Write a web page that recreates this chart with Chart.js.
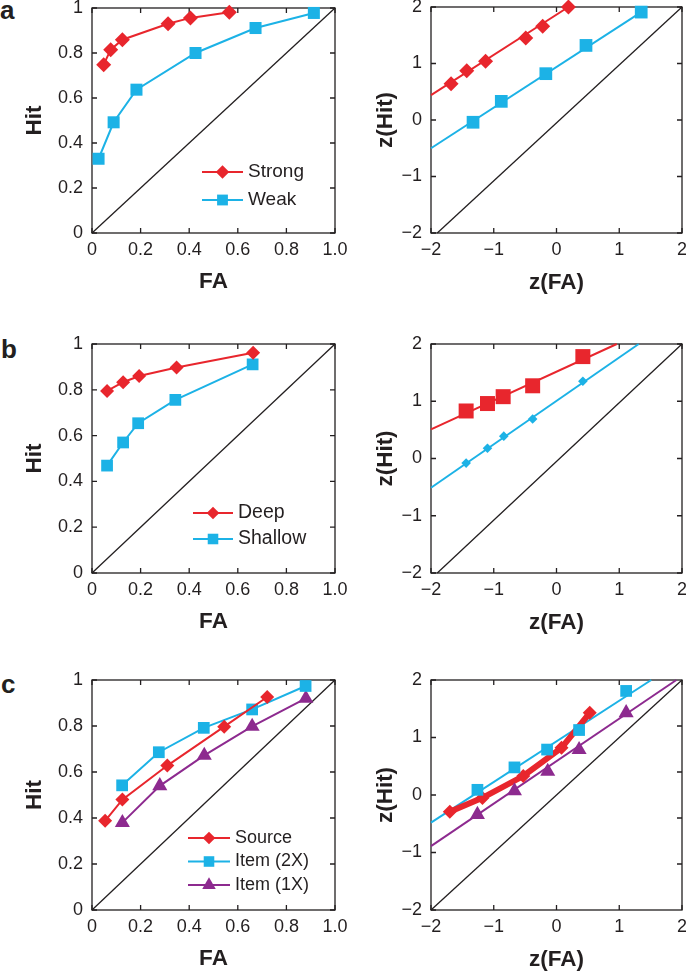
<!DOCTYPE html>
<html>
<head>
<meta charset="utf-8">
<script src="https://cdn.jsdelivr.net/npm/chart.js@4.4.1/dist/chart.umd.min.js"></script>
<style>
  html, body { margin: 0; padding: 0; background: #fff; overflow: hidden; }
  #page { position: relative; width: 686px; height: 971px; overflow: hidden; }
  .panel { position: absolute; }
  .tag { position: absolute; font: bold 26px 'Liberation Sans', Arial, sans-serif; line-height: 26px; color: #231f20; }
</style>
</head>
<body>
<div id="page">
  <div class="tag" style="left:0px;top:-3px">a</div>
  <div class="tag" style="left:1px;top:336px">b</div>
  <div class="tag" style="left:1px;top:671px">c</div>
</div>
<script>
// tick values / labels
const probTicks = [0, 0.2, 0.4, 0.6, 0.8, 1];
const faTickLabels = ['0', '0.2', '0.4', '0.6', '0.8', '1.0'];
const hitTickLabels = ['0', '0.2', '0.4', '0.6', '0.8', '1'];
const zTicks = [-2, -1, 0, 1, 2];
const zTickLabels = ['\u22122', '\u22121', '0', '1', '2'];
const zRightTicksC = [1.2, 0.4, -0.4, -1.2];

// chance diagonals
const chanceX = [0, 1];
const chanceY = [0, 1];
const zChanceX = [-1.9, 2];
const zChanceXC = [-2, 2];
const zChanceY = [-2, 2];

// a: strong / weak
const strongFA = [0.048, 0.077, 0.125, 0.313, 0.405, 0.565];
const strongHit = [0.748, 0.815, 0.859, 0.930, 0.956, 0.981];
const weakFA = [0.027, 0.089, 0.183, 0.426, 0.673, 0.913];
const weakHit = [0.330, 0.492, 0.637, 0.800, 0.911, 0.978];
const strongZFA = [-1.68, -1.43, -1.13, -0.49, -0.22, 0.19];
const strongZHit = [0.64, 0.87, 1.04, 1.45, 1.66, 2.00];
const weakZFA = [-1.33, -0.88, -0.17, 0.47, 1.35];
const weakZHit = [-0.04, 0.33, 0.82, 1.32, 1.91];
const strongFitX = [-2, 0.19];
const strongFitY = [0.44, 2.0];
const weakFitX = [-2, 1.35];
const weakFitY = [-0.50, 1.91];

// b: deep / shallow
const deepFA = [0.062, 0.128, 0.194, 0.348, 0.663];
const deepHit = [0.795, 0.833, 0.860, 0.897, 0.962];
const shallowFA = [0.062, 0.128, 0.190, 0.343, 0.661];
const shallowHit = [0.469, 0.570, 0.654, 0.756, 0.911];
const deepZFA = [-1.44, -1.10, -0.85, -0.38, 0.42];
const deepZHit = [0.83, 0.96, 1.08, 1.27, 1.78];
const shallowZFA = [-1.44, -1.10, -0.84, -0.38, 0.42];
const shallowZHit = [-0.08, 0.18, 0.39, 0.69, 1.35];
const deepFitX = [-2, 0.96];
const deepFitY = [0.51, 2.0];
const shallowFitX = [-2, 1.31];
const shallowFitY = [-0.51, 2.0];

// c: source / item 2X / item 1X
const sourceFA = [0.054, 0.125, 0.310, 0.544, 0.721];
const sourceHit = [0.388, 0.480, 0.628, 0.797, 0.926];
const item2FA = [0.124, 0.275, 0.460, 0.659, 0.879];
const item2Hit = [0.542, 0.686, 0.792, 0.872, 0.974];
const item1FA = [0.125, 0.279, 0.462, 0.659, 0.880];
const item1Hit = [0.380, 0.540, 0.672, 0.798, 0.920];
const sourceZFA = [-1.70, -1.18, -0.53, 0.08, 0.53];
const sourceZHit = [-0.29, -0.05, 0.33, 0.82, 1.43];
const item2ZFA = [-1.26, -0.67, -0.15, 0.36, 1.11];
const item2ZHit = [0.09, 0.48, 0.79, 1.13, 1.81];
const item1ZFA = [-1.26, -0.67, -0.14, 0.36, 1.11];
const item1ZHit = [-0.34, 0.07, 0.41, 0.79, 1.43];
const item2FitX = [-2, 1.51];
const item2FitY = [-0.48, 2.0];
const item1FitX = [-2, 1.91];
const item1FitY = [-0.89, 2.0];

const FONT = "'Liberation Sans', Arial, Helvetica, sans-serif";
const INK = '#231f20';
const RED = '#e8262d';
const CYAN = '#1cb2e6';
const PURPLE = '#8d2a8f';
const TITLE_SIZE = 22.5;

const PAD_L = 100, PAD_T = 30, PAD_R = 30, PAD_B = 80;

const framePlugin = {
    id: 'frame',
    beforeDatasetsDraw(chart, args, o) {
        const { ctx, chartArea: a, scales: { x, y } } = chart;
        const L = 5;
        ctx.save();
        ctx.strokeStyle = INK;
        ctx.lineWidth = 1.3;
        ctx.strokeRect(a.left, a.top, a.right - a.left, a.bottom - a.top);
        ctx.beginPath();
        x.ticks.forEach(t => {
            const px = x.getPixelForValue(t.value);
            ctx.moveTo(px, a.bottom); ctx.lineTo(px, a.bottom - L);
            ctx.moveTo(px, a.top); ctx.lineTo(px, a.top + L);
        });
        y.ticks.forEach(t => {
            const py = y.getPixelForValue(t.value);
            ctx.moveTo(a.left, py); ctx.lineTo(a.left + L, py);
        });
        (o.rightTicks || y.ticks.map(t => t.value)).forEach(v => {
            const py = y.getPixelForValue(v);
            ctx.moveTo(a.right, py); ctx.lineTo(a.right - L, py);
        });
        ctx.stroke();
        ctx.restore();
    },
};

const keyPlugin = {
    id: 'key',
    afterDatasetsDraw(chart, args, o) {
        if (!o.items) return;
        const { ctx, chartArea: a } = chart;
        o.items.forEach((idx, k) => {
            const ds = chart.data.datasets[idx];
            const x0 = a.left + o.dx;
            const y0 = a.top + o.dy + k * o.step;
            ctx.save();
            ctx.strokeStyle = ds.borderColor;
            ctx.lineWidth = 2;
            ctx.beginPath();
            ctx.moveTo(x0, y0); ctx.lineTo(x0 + o.len, y0);
            ctx.stroke();
            ctx.fillStyle = ds.pointBackgroundColor;
            Chart.helpers.drawPoint(ctx, {
                pointStyle: ds.pointStyle, radius: ds.pointRadius * 0.9, rotation: 0, borderWidth: 0,
            }, x0 + o.len / 2, y0);
            ctx.fillStyle = INK;
            ctx.font = o.size + 'px ' + FONT;
            ctx.textBaseline = 'middle';
            ctx.fillText(ds.label, x0 + o.textDx, y0);
            ctx.restore();
        });
    },
};

Chart.register(framePlugin, keyPlugin);

function pts(xs, ys) {
    return xs.map((x, i) => ({ x: x, y: ys[i] }));
}

function chance(xs, ys) {
    return { label: '', data: pts(xs, ys), showLine: true, borderColor: INK, borderWidth: 1.3, pointRadius: 0, order: 3 };
}

function fit(xs, ys, color) {
    return { label: '', data: pts(xs, ys), showLine: true, borderColor: color, borderWidth: 2, pointRadius: 0, order: 2 };
}

function series(label, xs, ys, color, style, r, lineWidth) {
    return {
        label: label,
        data: pts(xs, ys),
        showLine: lineWidth > 0,
        borderColor: color,
        borderWidth: lineWidth || 2,
        pointStyle: style,
        pointRadius: r,
        pointHoverRadius: r,
        pointBackgroundColor: color,
        pointBorderWidth: 0,
        order: 1,
    };
}

function axis(pos, min, max, ticks, labels, title, titleGap) {
    const horizontal = pos === 'bottom';
    const half = TITLE_SIZE * 0.6;
    return {
        type: 'linear',
        position: pos,
        min: min,
        max: max,
        afterBuildTicks: s => { s.ticks = ticks.map(v => ({ value: v })); },
        afterFit: s => {
            if (horizontal) s.height = PAD_B; else s.width = PAD_L;
        },
        ticks: {
            callback: (v, i) => labels[i],
            font: { family: FONT, size: 18 },
            color: INK,
            padding: horizontal ? 6 : 9,
            maxRotation: 0,
            autoSkip: false,
        },
        grid: { display: false, drawTicks: false },
        border: { display: false },
        title: {
            display: true,
            text: title,
            color: INK,
            font: { family: FONT, size: TITLE_SIZE, weight: 'bold' },
            padding: horizontal
                ? { top: 0, bottom: PAD_B - titleGap - half }
                : { top: PAD_L - titleGap - half, bottom: 0 },
        },
    };
}

function panel(box, datasets, scales, plugins) {
    const w = box.r - box.l, h = box.b - box.t;
    const div = document.createElement('div');
    div.className = 'panel';
    div.style.left = (box.l - PAD_L) + 'px';
    div.style.top = (box.t - PAD_T) + 'px';
    const cv = document.createElement('canvas');
    cv.width = w + PAD_L + PAD_R;
    cv.height = h + PAD_T + PAD_B;
    div.appendChild(cv);
    document.getElementById('page').appendChild(div);
    return new Chart(cv, {
        type: 'scatter',
        data: { datasets: datasets },
        options: {
            responsive: false,
            animation: false,
            events: [],
            devicePixelRatio: 1,
            clip: false,
            layout: { padding: { left: 0, top: PAD_T, right: PAD_R, bottom: 0 } },
            plugins: Object.assign({ legend: { display: false }, tooltip: { enabled: false } }, plugins),
            scales: scales,
        },
    });
}

function probScales() {
    return {
        x: axis('bottom', 0, 1, probTicks, faTickLabels, 'FA', 49),
        y: axis('left', 0, 1, probTicks, hitTickLabels, 'Hit', 57),
    };
}

function zScales() {
    return {
        x: axis('bottom', -2, 2, zTicks, zTickLabels, 'z(FA)', 50),
        y: axis('left', -2, 2, zTicks, zTickLabels, 'z(Hit)', 45.5),
    };
}

// a
panel({ l: 92, t: 8, r: 335, b: 233 }, [
    series('Strong', strongFA, strongHit, RED, 'rectRot', 7.5, 2),
    series('Weak', weakFA, weakHit, CYAN, 'rect', 8.5, 2),
    chance(chanceX, chanceY),
], probScales(), { key: { items: [0, 1], dx: 110, dy: 164, step: 28, len: 41, textDx: 46, size: 19 } });

panel({ l: 431, t: 7, r: 682, b: 233 }, [
    series('Strong', strongZFA, strongZHit, RED, 'rectRot', 7.5, 0),
    series('Weak', weakZFA, weakZHit, CYAN, 'rect', 9, 0),
    fit(strongFitX, strongFitY, RED),
    fit(weakFitX, weakFitY, CYAN),
    chance(zChanceX, zChanceY),
], zScales(), {});

// b
panel({ l: 92, t: 344, r: 335, b: 573 }, [
    series('Deep', deepFA, deepHit, RED, 'rectRot', 7, 2),
    series('Shallow', shallowFA, shallowHit, CYAN, 'rect', 8.3, 2),
    chance(chanceX, chanceY),
], probScales(), { key: { items: [0, 1], dx: 101, dy: 169, step: 26, len: 40, textDx: 45, size: 19.5 } });

panel({ l: 431, t: 344, r: 682, b: 573 }, [
    series('Deep', deepZFA, deepZHit, RED, 'rect', 10.6, 0),
    series('Shallow', shallowZFA, shallowZHit, CYAN, 'rectRot', 4.8, 0),
    fit(deepFitX, deepFitY, RED),
    fit(shallowFitX, shallowFitY, CYAN),
    chance(zChanceX, zChanceY),
], zScales(), {});

// c
panel({ l: 92, t: 680, r: 335, b: 910 }, [
    series('Source', sourceFA, sourceHit, RED, 'rectRot', 7, 2),
    series('Item (2X)', item2FA, item2Hit, CYAN, 'rect', 8.3, 2),
    series('Item (1X)', item1FA, item1Hit, PURPLE, 'triangle', 8.7, 2),
    chance(chanceX, chanceY),
], probScales(), { key: { items: [0, 1, 2], dx: 96, dy: 158, step: 23.5, len: 42, textDx: 47, size: 18 } });

panel({ l: 431, t: 680, r: 682, b: 910 }, [
    series('Item (2X)', item2ZFA, item2ZHit, CYAN, 'rect', 8.3, 0),
    series('Item (1X)', item1ZFA, item1ZHit, PURPLE, 'triangle', 8.7, 0),
    series('Source', sourceZFA, sourceZHit, RED, 'rectRot', 7, 6),
    fit(item2FitX, item2FitY, CYAN),
    fit(item1FitX, item1FitY, PURPLE),
    chance(zChanceXC, zChanceY),
], zScales(), { frame: { rightTicks: zRightTicksC } });
</script>
</body>
</html>
